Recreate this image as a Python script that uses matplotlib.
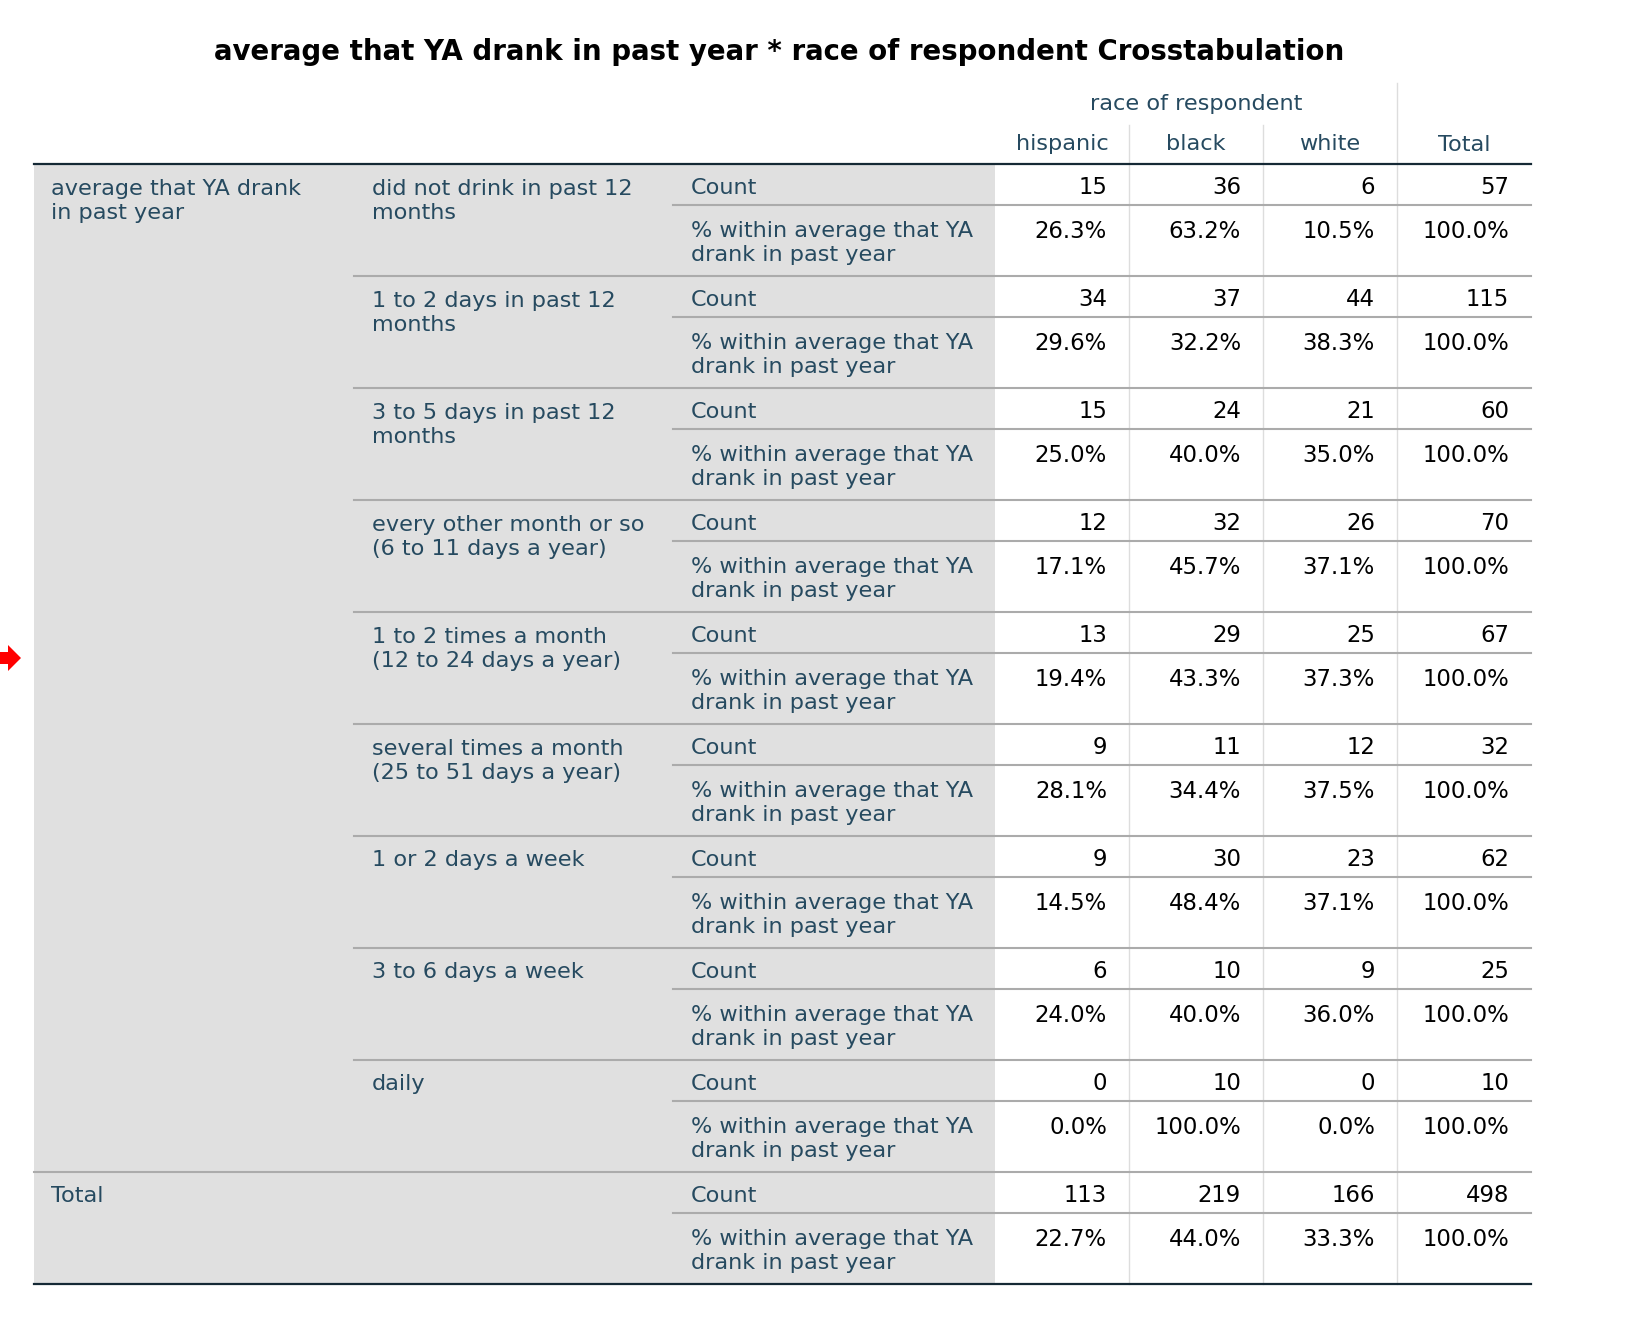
import matplotlib
matplotlib.use("Agg")
import matplotlib.pyplot as plt
from matplotlib.patches import Rectangle, Polygon

# table contents
title = "average that YA drank in past year * race of respondent Crosstabulation"
row_var = "average that YA drank\nin past year"
col_var = "race of respondent"
races = ["hispanic", "black", "white"]
categories = [
    "did not drink in past 12\nmonths",
    "1 to 2 days in past 12\nmonths",
    "3 to 5 days in past 12\nmonths",
    "every other month or so\n(6 to 11 days a year)",
    "1 to 2 times a month\n(12 to 24 days a year)",
    "several times a month\n(25 to 51 days a year)",
    "1 or 2 days a week",
    "3 to 6 days a week",
    "daily",
]
hispanic_n = [15, 34, 15, 12, 13, 9, 9, 6, 0]
black_n = [36, 37, 24, 32, 29, 11, 30, 10, 10]
white_n = [6, 44, 21, 26, 25, 12, 23, 9, 0]
total_n = [57, 115, 60, 70, 67, 32, 62, 25, 10]
hispanic_pct = [26.3, 29.6, 25.0, 17.1, 19.4, 28.1, 14.5, 24.0, 0.0]
black_pct = [63.2, 32.2, 40.0, 45.7, 43.3, 34.4, 48.4, 40.0, 100.0]
white_pct = [10.5, 38.3, 35.0, 37.1, 37.3, 37.5, 37.1, 36.0, 0.0]
total_pct = [100.0] * 9
grand_n = [113, 219, 166, 498]
grand_pct = [22.7, 44.0, 33.3, 100.0]
stat_labels = ["Count", "% within average that YA\ndrank in past year"]

W, H = 1628, 1329
fig = plt.figure(figsize=(W / 100, H / 100), dpi=100)
ax = fig.add_axes([0, 0, 1, 1])
ax.set_xlim(0, W)
ax.set_ylim(H, 0)
ax.axis("off")

LBL = "#264A60"
FS = 16.1
FSN = 16.4
LS = 1.25
x_left, x_c2, x_c3, x_gray = 34, 354, 673, 995
col_edges = [995, 1129, 1263, 1397, 1531]
x_right = col_edges[-1]
y_head = 164
gh = 112  # group height
n_groups = len(categories) + 1
y_bottom = y_head + gh * n_groups

# gray stub area
ax.add_patch(Rectangle((x_left, y_head), x_gray - x_left, y_bottom - y_head,
                       facecolor="#E0E0E0", edgecolor="none", zorder=0))

ax.text(779, 52, title, ha="center", va="center",
        fontsize=19.9, fontweight="bold", color="black")

# header
ax.text((col_edges[0] + col_edges[3]) / 2, 104, col_var, ha="center",
        va="center", fontsize=FS, color=LBL)
for i, r in enumerate(races):
    ax.text((col_edges[i] + col_edges[i + 1]) / 2, 144, r, ha="center",
            va="center", fontsize=FS, color=LBL)
ax.text((col_edges[3] + col_edges[4]) / 2, 145, "Total", ha="center",
        va="center", fontsize=FS, color=LBL)

# vertical grid lines
for xe in col_edges[1:3]:
    ax.plot([xe, xe], [125, y_bottom], color="#DDDDDD", lw=1.0, zorder=1)
ax.plot([col_edges[3]] * 2, [83, y_bottom], color="#DDDDDD", lw=1.0, zorder=1)

ax.text(x_left + 17, y_head + 37, row_var, ha="left", va="center",
        fontsize=FS, color=LBL, linespacing=LS)


def fmt_pct(v):
    return f"{v:.1f}%"


rows = []
for k in range(len(categories)):
    rows.append((categories[k],
                 [hispanic_n[k], black_n[k], white_n[k], total_n[k]],
                 [hispanic_pct[k], black_pct[k], white_pct[k], total_pct[k]]))
rows.append(("Total", grand_n, grand_pct))

for g, (name, counts, pcts) in enumerate(rows):
    top = y_head + gh * g
    if g == len(rows) - 1:
        ax.text(x_left + 17, top + 24, name, ha="left", va="center",
                fontsize=FS, color=LBL)
    else:
        yy = top + 37 if "\n" in name else top + 24
        ax.text(x_c2 + 18, yy, name, ha="left", va="center",
                fontsize=FS, color=LBL, linespacing=LS)
    ax.text(x_c3 + 18, top + 24, stat_labels[0], ha="left", va="center",
            fontsize=FS, color=LBL)
    ax.text(x_c3 + 18, top + 79, stat_labels[1], ha="left", va="center",
            fontsize=FS, color=LBL, linespacing=LS)
    for j in range(4):
        xr = col_edges[j + 1] - 22
        ax.text(xr, top + 24, str(counts[j]), ha="right", va="center",
                fontsize=FSN, color="black")
        ax.text(xr, top + 67, fmt_pct(pcts[j]), ha="right", va="center",
                fontsize=FSN, color="black")
    # separator between Count and % rows
    ax.plot([x_c3, x_right], [top + 41, top + 41], color="#ABABAB",
            lw=1.5, zorder=2)
    # separator below the group
    if g < len(rows) - 1:
        xs = x_left if g == len(rows) - 2 else x_c2
        ax.plot([xs, x_right], [top + gh, top + gh], color="#ABABAB",
                lw=1.5, zorder=2)

ax.plot([x_left, x_right], [y_head, y_head], color="#152935", lw=1.6, zorder=3)
ax.plot([x_left, x_right], [y_bottom, y_bottom], color="#152935", lw=1.6, zorder=3)

# red marker arrow at the left edge
ax.add_patch(Polygon([(0, 652), (8, 652), (8, 645), (21, 658), (8, 671),
                      (8, 664), (0, 664)], closed=True, facecolor="red",
                     edgecolor="none"))

fig.savefig("out.png", dpi=100)
